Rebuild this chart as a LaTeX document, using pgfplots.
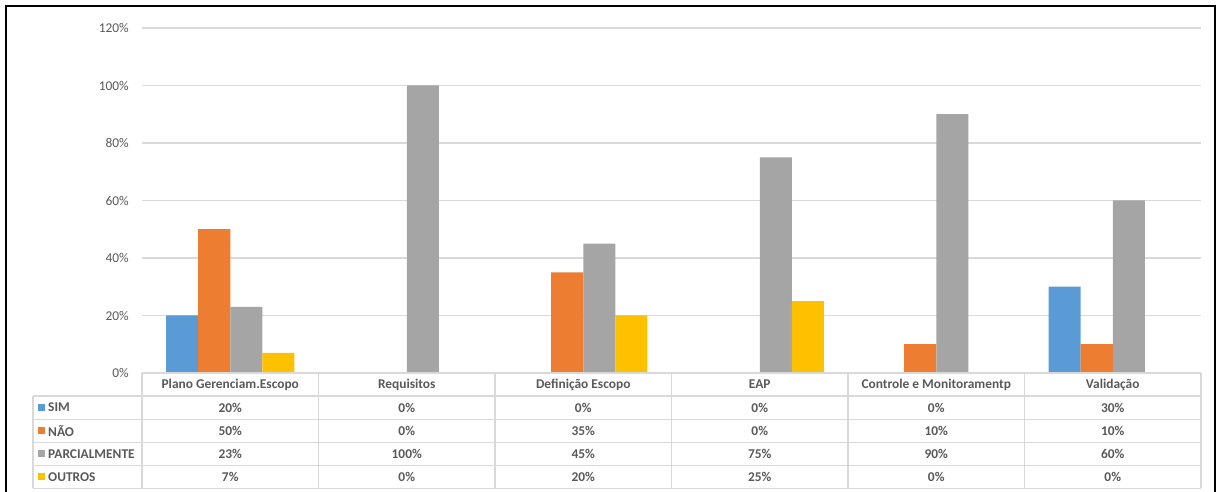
\documentclass[border=0pt]{standalone}
\usepackage{fontspec}
\setmainfont{Carlito}
\usepackage{pgfplots}
\usepackage{pgfplotstable}
\pgfplotsset{compat=1.18}

\definecolor{simblue}{HTML}{5B9BD5}
\definecolor{naoorange}{HTML}{ED7D31}
\definecolor{parcgray}{HTML}{A5A5A5}
\definecolor{outyellow}{HTML}{FFC000}
\definecolor{gridgray}{HTML}{D9D9D9}
\definecolor{tickgray}{HTML}{595959}

% percentages per category (x = category index)
\pgfplotstableread{
x sim nao parc outros
0 20 50 23 7
1 0 0 100 0
2 0 35 45 20
3 0 0 75 25
4 0 10 90 0
5 30 10 60 0
}\datatable

\newcommand{\tabfont}{\fontsize{13.4}{16}\selectfont\bfseries}

\begin{document}
\begin{tikzpicture}[x=1pt,y=1pt]
\useasboundingbox (0,0) rectangle (1219,492);

\begin{axis}[
    at={(142pt,119pt)}, anchor=south west,
    scale only axis, width=1059pt, height=345pt,
    ybar=0pt, bar width=0.1818,
    xmin=-0.5, xmax=5.5, ymin=0, ymax=120,
    xtick=\empty,
    ytick={0,20,...,120},
    yticklabels={0\%,20\%,40\%,60\%,80\%,100\%,120\%},
    ymajorgrids,
    grid style={gridgray, line width=1.2pt},
    axis line style={draw=none},
    major tick length=0pt,
    yticklabel style={font=\fontsize{13.4}{16}\selectfont, text=tickgray,
      inner sep=0pt, xshift=-13pt},
    clip=false,
  ]
  \addplot[fill=simblue, draw=none] table[x=x, y=sim] {\datatable};
  \addplot[fill=naoorange, draw=none] table[x=x, y=nao] {\datatable};
  \addplot[fill=parcgray, draw=none] table[x=x, y=parc] {\datatable};
  \addplot[fill=outyellow, draw=none] table[x=x, y=outros] {\datatable};
\end{axis}

% data table below the plot
\begin{scope}[draw=gridgray, line width=1.3pt]
  \draw (142,119) -- (1201,119);
  \foreach \y in {96,72.8,49.7,26.6,3.5} \draw (33,\y) -- (1201,\y);
  \draw (33,96) -- (33,3.5);
  \foreach \x in {142,318.5,495,671.5,848,1024.5,1201} \draw (\x,119) -- (\x,3.5);
\end{scope}

\foreach \t [count=\i from 0] in {Plano Gerenciam.Escopo, Requisitos, Definição Escopo, EAP, Controle e Monitoramentp, Validação}
  \node[font=\tabfont, text=tickgray] at ({142+176.5*(\i+0.5)},107.5) {\t};

\foreach \s/\l/\col [count=\r from 0] in {sim/SIM/simblue, nao/NÃO/naoorange, parc/PARCIALMENTE/parcgray, outros/OUTROS/outyellow} {
  \fill[\col] (38,{84.4-23.1*\r-3.6}) rectangle (45.2,{84.4-23.1*\r+3.6});
  \node[font=\tabfont, text=tickgray, anchor=west, inner sep=0pt] at (48,{84.4-23.1*\r}) {\l};
  \foreach \c in {0,...,5} {
    \pgfplotstablegetelem{\c}{\s}\of\datatable
    \node[font=\tabfont, text=tickgray] at ({142+176.5*(\c+0.5)},{84.4-23.1*\r}) {\pgfplotsretval\%};
  }
}

% outer frame
\draw[black, line width=2.2pt] (6,0) -- (6,486) -- (1215,486) -- (1215,0);
\end{tikzpicture}
\end{document}
